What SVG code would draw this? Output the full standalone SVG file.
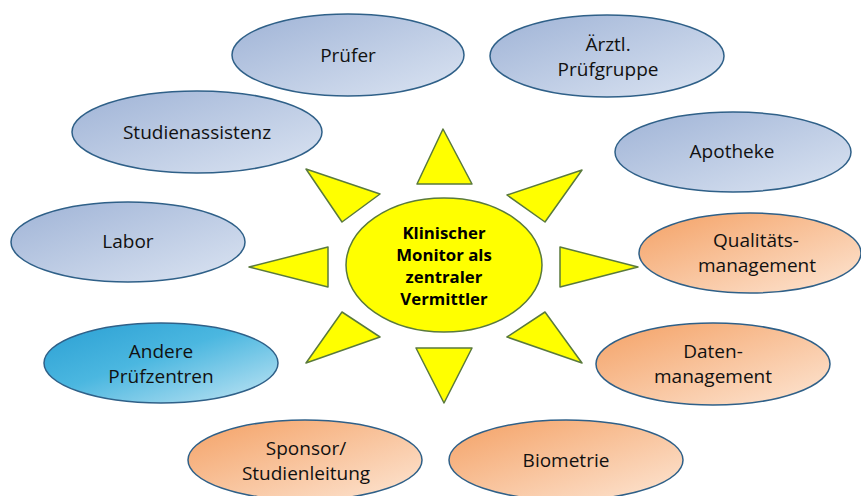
<svg xmlns="http://www.w3.org/2000/svg" width="861" height="496" viewBox="0 0 861 496">
<defs>
<linearGradient id="gBlue" x1="0" y1="0" x2="1" y2="1">
<stop offset="0" stop-color="#9fb3d6"/>
<stop offset="1" stop-color="#dbe4f2"/>
</linearGradient>
<linearGradient id="gCyan" x1="0" y1="0" x2="1" y2="1">
<stop offset="0" stop-color="#2a9fd3"/>
<stop offset="0.45" stop-color="#4bb7e0"/>
<stop offset="1" stop-color="#c4e6f4"/>
</linearGradient>
<linearGradient id="gOrange" x1="0" y1="0" x2="1" y2="1">
<stop offset="0" stop-color="#f4a165"/>
<stop offset="1" stop-color="#fde6d4"/>
</linearGradient>
<style>
.nb{fill:url(#gBlue);stroke:#2f6088;stroke-width:1.5}
.nc{fill:url(#gCyan);stroke:#2f6088;stroke-width:1.5}
.no{fill:url(#gOrange);stroke:#2f6088;stroke-width:1.5}
.ray{fill:#ffff00;stroke:#5a7a3c;stroke-width:1.5;stroke-linejoin:round}
.sun{fill:#ffff00;stroke:#5a7a3c;stroke-width:1.5}
text{font-family:"Open Sans","Liberation Sans",sans-serif;font-size:19px;font-weight:500;fill:#111;text-anchor:middle}
.ct{font-weight:bold;font-size:16.8px;fill:#000}
</style>
</defs>
<rect width="861" height="496" fill="#ffffff"/>
<g id="connectors">
<polygon class="ray" points="443,129 417,184 472,184"/>
<polygon class="ray" points="416,348 472,348 444,403"/>
<polygon class="ray" points="249,267 328,247 328,287"/>
<polygon class="ray" points="638,267 560,247 560,287"/>
<polygon class="ray" points="306,169 380,194 342,222"/>
<polygon class="ray" points="582,170 507,195 545,222"/>
<polygon class="ray" points="342,312 380,337 306,363"/>
<polygon class="ray" points="545,312 507,337 582,363"/>
</g>
<g id="center">
<ellipse class="sun" cx="444" cy="265" rx="98" ry="67"/>
<text class="ct" x="444" y="239">Klinischer</text>
<text class="ct" x="444" y="261">Monitor als</text>
<text class="ct" x="444" y="283">zentraler</text>
<text class="ct" x="444" y="305">Vermittler</text>
</g>
<g id="pruefer">
<ellipse class="nb" cx="348" cy="55" rx="116" ry="41"/>
<text x="348" y="62">Prüfer</text>
</g>
<g id="aerztl">
<ellipse class="nb" cx="607" cy="56" rx="117" ry="41"/>
<text x="608" y="51">Ärztl.</text>
<text x="608" y="76">Prüfgruppe</text>
</g>
<g id="studienassistenz">
<ellipse class="nb" cx="197" cy="132" rx="125" ry="41"/>
<text x="197" y="139">Studienassistenz</text>
</g>
<g id="apotheke">
<ellipse class="nb" cx="733" cy="152" rx="118" ry="40"/>
<text x="732" y="158">Apotheke</text>
</g>
<g id="labor">
<ellipse class="nb" cx="128" cy="242" rx="117" ry="40"/>
<text x="128" y="248">Labor</text>
</g>
<g id="qualitaet">
<ellipse class="no" cx="750" cy="253" rx="111" ry="40"/>
<text x="756" y="247">Qualitäts-</text>
<text x="757" y="272">management</text>
</g>
<g id="andere">
<ellipse class="nc" cx="161" cy="363" rx="117" ry="40"/>
<text x="161" y="358">Andere</text>
<text x="161" y="383">Prüfzentren</text>
</g>
<g id="daten">
<ellipse class="no" cx="713" cy="364" rx="117" ry="41"/>
<text x="713" y="358">Daten-</text>
<text x="713" y="383">management</text>
</g>
<g id="sponsor">
<ellipse class="no" cx="305" cy="460" rx="117" ry="40"/>
<text x="306" y="455">Sponsor/</text>
<text x="306" y="480">Studienleitung</text>
</g>
<g id="biometrie">
<ellipse class="no" cx="566" cy="460" rx="117" ry="40"/>
<text x="566" y="467">Biometrie</text>
</g>
</svg>
